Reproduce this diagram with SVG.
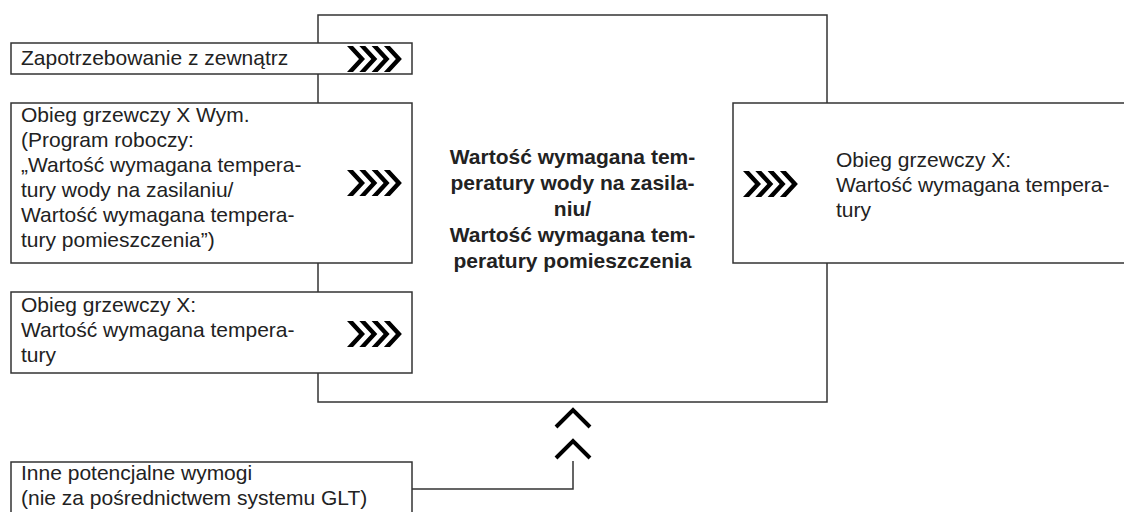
<svg xmlns="http://www.w3.org/2000/svg" width="1124" height="512" viewBox="0 0 1124 512">
  <style>
    .box { fill: #ffffff; stroke: #333333; stroke-width: 1.5; }
    .frame { fill: none; stroke: #333333; stroke-width: 1.5; }
    .t { font-family: "Liberation Sans", Arial, sans-serif; font-size: 21px; fill: #222222; }
    .tb { font-family: "Liberation Sans", Arial, sans-serif; font-size: 21px; font-weight: bold; fill: #222222; text-anchor: middle; }
    .line { fill: none; stroke: #333333; stroke-width: 1.5; }
    .caret { fill: none; stroke: #000000; stroke-width: 4; stroke-linejoin: miter; }
  </style>
  <defs>
    <g id="chev">
      <polygon points="0,0 6,0 18,13 6,26 0,26 12,13" fill="#000"/>
      <polygon points="12.3,0 18.3,0 30.3,13 18.3,26 12.3,26 24.3,13" fill="#000"/>
      <polygon points="24.6,0 30.6,0 42.6,13 30.6,26 24.6,26 36.6,13" fill="#000"/>
      <polygon points="36.9,0 42.9,0 54.9,13 42.9,26 36.9,26 48.9,13" fill="#000"/>
    </g>
  </defs>

  <g id="main">
    <rect class="frame" x="318" y="15" width="509" height="387"/>
    <text class="tb" x="572.5" y="164">Wartość wymagana tem-</text>
    <text class="tb" x="572.5" y="190">peratury wody na zasila-</text>
    <text class="tb" x="572.5" y="216">niu/</text>
    <text class="tb" x="572.5" y="242">Wartość wymagana tem-</text>
    <text class="tb" x="572.5" y="268">peratury pomieszczenia</text>
  </g>

  <g id="node-external">
    <rect class="box" x="11" y="43" width="401" height="31"/>
    <text class="t" x="21" y="65">Zapotrzebowanie z zewnątrz</text>
  </g>

  <g id="node-program">
    <rect class="box" x="11" y="103" width="401" height="160"/>
    <text class="t" x="21" y="122">Obieg grzewczy X Wym.</text>
    <text class="t" x="21" y="147">(Program roboczy:</text>
    <text class="t" x="21" y="172">„Wartość wymagana tempera-</text>
    <text class="t" x="21" y="197">tury wody na zasilaniu/</text>
    <text class="t" x="21" y="222">Wartość wymagana tempera-</text>
    <text class="t" x="21" y="247">tury pomieszczenia”)</text>
  </g>

  <g id="node-circuit-in">
    <rect class="box" x="11" y="292" width="401" height="81"/>
    <text class="t" x="21" y="312">Obieg grzewczy X:</text>
    <text class="t" x="21" y="337">Wartość wymagana tempera-</text>
    <text class="t" x="21" y="362">tury</text>
  </g>

  <g id="node-circuit-out">
    <rect class="box" x="733" y="103" width="420" height="160"/>
    <text class="t" x="836" y="167">Obieg grzewczy X:</text>
    <text class="t" x="836" y="192">Wartość wymagana tempera-</text>
    <text class="t" x="836" y="217">tury</text>
  </g>

  <g id="node-other">
    <rect class="box" x="11" y="462" width="401" height="70"/>
    <text class="t" x="21" y="480">Inne potencjalne wymogi</text>
    <text class="t" x="21" y="505">(nie za pośrednictwem systemu GLT)</text>
  </g>

  <g id="connectors">
    <use href="#chev" x="347" y="46"/>
    <use href="#chev" x="347" y="170"/>
    <use href="#chev" x="347" y="321"/>
    <use href="#chev" x="743" y="171"/>
    <polyline class="line" points="412,489 573,489 573,461"/>
    <polyline class="caret" points="556,427 573,410 590,427"/>
    <polyline class="caret" points="556,458 573,441 590,458"/>
  </g>
</svg>
